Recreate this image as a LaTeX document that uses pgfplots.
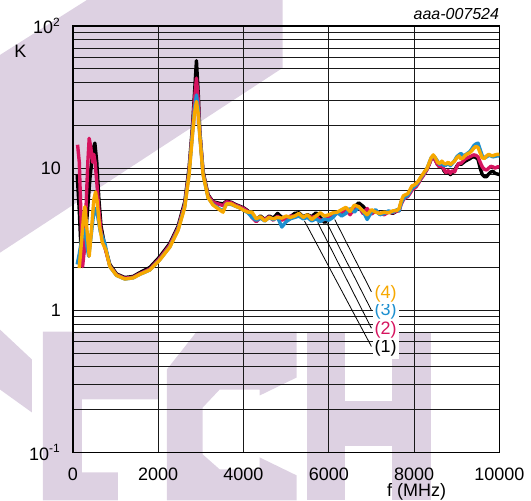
\documentclass[border=0pt]{standalone}
\usepackage{fontspec}
\setmainfont{Liberation Sans}
\usepackage{pgfplots}
\pgfplotsset{compat=1.18}
\definecolor{wm}{RGB}{221,209,226}
\definecolor{c1}{RGB}{0,0,0}
\definecolor{c2}{RGB}{214,20,95}
\definecolor{c3}{RGB}{30,144,208}
\definecolor{c4}{RGB}{247,168,0}
\begin{document}
\begin{tikzpicture}
\begin{scope}[x=0.5pt,y=-0.5pt]
\useasboundingbox (0,0) rectangle (531,501);
% watermark
\fill[wm] (0,55) -- (87,0) -- (283,0) -- (283,68) -- (0,253) -- cycle;
\fill[wm] (0,330) -- (32,360) -- (32,413) -- (0,390) -- cycle;
\fill[wm] (43,332) -- (158,332) -- (158,400) -- (82,400) -- (82,473) -- (118,473) -- (118,501) -- (43,501) -- cycle;
\fill[wm] (167,370) -- (197,332) -- (297,332) -- (297,378) -- (260,396) -- (260,390) -- (220,390) -- (203,408) -- (203,455) -- (220,470) -- (260,470) -- (260,458) -- (297,476) -- (297,501) -- (167,501) -- cycle;
\fill[wm] (307,332) rectangle (345,501);
\fill[wm] (393,332) rectangle (432,501);
\fill[wm] (345,402) rectangle (393,447);
\end{scope}
\node[anchor=east, inner sep=0, font=\itshape\fontsize{8}{9}\selectfont] at (250pt,-7.25pt) {aaa-007524};
\node[inner sep=0, font=\fontsize{9}{10}\selectfont] at (10.25pt,-25.5pt) {K};
\begin{axis}[
  at={(36.5pt,-226.5pt)}, anchor=south west,
  width=213.5pt, height=213.5pt, scale only axis,
  xmin=0, xmax=10000, ymode=log, ymin=0.1, ymax=100,
  scaled x ticks=false,
  xtick={0,2000,4000,6000,8000,10000},
  xticklabels={0,2000,4000,6000,8000,10000},
  ytick={0.1,1,10,100},
  yticklabels={10\textsuperscript{-1},1,10,10\textsuperscript{2}},
  minor ytick={0.2,0.3,0.4,0.5,0.6,0.7,0.8,0.9,2,3,4,5,6,7,8,9,20,30,40,50,60,70,80,90},
  xmajorgrids, ymajorgrids, yminorgrids,
  grid style={black!90, line width=0.5pt},
  minor grid style={black!90, line width=0.5pt},
  major tick length=0pt, minor tick length=0pt,
  axis line style={black, line width=0.6pt},
  tick label style={font=\fontsize{9}{10}\selectfont},
  xticklabel shift=4pt, yticklabel shift=2.5pt,
  xlabel={f (MHz)},
  xlabel style={at={(axis description cs:0.806,0)}, anchor=north, inner sep=0pt, yshift=-15.5pt, font=\fontsize{9}{10}\selectfont},
  clip=true,
]
% (1) black
\addplot[c1, line width=1.7pt, line join=round] coordinates {
(100,9.0) (150,5.0) (204,2.15) (260,2.6) (330,4.5) (400,8.5) (470,13.5) (515,15.0) (560,11) (610,6.0) (660,3.9) (750,2.8)
(866,2.1) (1023,1.8) (1218,1.7) (1412,1.73) (1569,1.84) (1803,2.0) (2037,2.38) (2272,2.95) (2466,3.9) (2623,5.8) (2724,10.0) (2803,19.5) (2850,33) (2897,57) (2940,33) (2974,18.5) (3052,9.5) (3169,6.5) (3286,5.8) (3443,5.65) (3520,5.6) (3599,5.85) (3716,5.75) (3811,5.55) (3911,5.4) (4006,5.25) (4106,5.0)
(4200,4.6) (4300,4.35) (4400,4.6) (4500,4.35) (4600,4.6) (4700,4.45) (4800,4.8) (4900,4.5) (5000,4.45) (5100,4.55) (5200,4.8) (5300,4.85) (5400,4.55) (5500,4.7) (5600,4.55) (5700,4.85) (5800,4.5) (5900,4.15) (6000,4.4) (6100,4.75) (6200,4.9) (6300,4.7) (6400,5.2) (6500,5.0) (6600,5.3) (6700,5.7) (6800,5.4) (6900,5.0) (7000,4.8) (7100,5.0) (7200,4.75) (7300,4.8) (7400,4.95) (7500,4.8) (7600,5.0)
(7650,5.1) (7700,5.8) (7750,6.2) (7800,6.3) (7850,6.4) (7900,6.8) (7950,7.3) (8000,7.4) (8050,7.6) (8100,7.9) (8150,8.4) (8200,8.8) (8250,9.3) (8300,9.8) (8350,10.6) (8400,11.6) (8450,12.0) (8500,11.4)
(8550,10.6) (8600,10.2) (8650,10.4) (8700,9.6) (8750,9.2) (8800,9.5) (8850,9.0) (8900,9.3) (8950,9.6) (9000,10.3) (9050,10.8) (9100,10.6) (9150,10.9) (9200,11.2) (9250,11.4) (9300,11.6) (9350,11.9) (9400,12.0) (9450,11.9) (9500,11.5) (9550,10.0) (9600,9.0) (9650,8.7) (9700,8.7) (9750,9.1) (9800,9.4) (9850,9.5) (9900,9.2) (9950,9.1) (10000,9.0)
};
% (2) magenta
\addplot[c2, line width=1.7pt, line join=round] coordinates {
(110,14.6) (150,11) (190,4.5) (227,2.03) (270,2.7) (310,5.5) (350,11) (382,16.2) (420,14) (460,11) (490,12.5) (520,11) (560,8) (610,5) (660,3.6) (710,3.1) (760,2.7)
(866,2.05) (1023,1.78) (1218,1.68) (1412,1.71) (1569,1.81) (1803,1.95) (2037,2.32) (2272,2.88) (2466,3.8) (2623,5.6) (2724,9.6) (2803,18.5) (2850,30) (2897,43) (2940,30) (2974,18) (3052,9.3) (3169,6.4) (3286,5.75) (3443,5.55) (3520,5.45) (3599,5.8) (3716,5.7) (3811,5.5) (3911,5.35) (4006,5.2) (4106,4.95)
(4200,4.5) (4300,4.2) (4400,4.5) (4500,4.35) (4600,4.55) (4700,4.3) (4800,4.6) (4900,4.3) (5000,4.45) (5100,4.6) (5200,4.6) (5300,4.7) (5400,4.45) (5500,4.65) (5600,4.5) (5700,4.6) (5800,4.3) (5900,4.35) (6000,4.55) (6100,4.7) (6200,4.8) (6300,4.9) (6400,5.1) (6500,4.7) (6600,5.2) (6700,5.4) (6800,4.8) (6900,5.2) (7000,4.75) (7100,5.0) (7200,4.8) (7300,4.7) (7400,4.9) (7500,4.85) (7600,5.0)
(7650,5.0) (7700,5.6) (7750,6.0) (7800,6.2) (7850,6.3) (7900,6.6) (7950,7.0) (8000,7.2) (8050,7.4) (8100,7.8) (8150,8.3) (8200,8.7) (8250,9.2) (8300,9.7) (8350,10.5) (8400,11.5) (8450,12.0) (8500,11.3)
(8550,10.6) (8600,10.2) (8650,10.5) (8700,9.8) (8750,9.3) (8800,9.6) (8850,9.2) (8900,9.6) (8950,9.4) (9000,10.2) (9050,10.8) (9100,10.8) (9150,11.2) (9200,11.6) (9250,11.8) (9300,12.0) (9350,12.2) (9400,12.4) (9450,12.3) (9500,12.0) (9550,11.0) (9600,10.2) (9650,9.8) (9700,9.7) (9750,10.0) (9800,10.3) (9850,10.2) (9900,10.0) (9950,10.2) (10000,10.2)
};
% (3) blue
\addplot[c3, line width=1.7pt, line join=round] coordinates {
(100,2.1) (150,2.5) (210,3.2) (281,3.7) (330,2.8) (370,2.4) (420,3.2) (480,4.6) (531,5.2) (580,4.6) (640,3.6) (750,2.95)
(866,2.03) (1023,1.76) (1218,1.66) (1412,1.69) (1569,1.79) (1803,1.92) (2037,2.27) (2272,2.8) (2466,3.7) (2623,5.4) (2724,9.2) (2803,17.5) (2850,26) (2897,32.7) (2940,26) (2974,17.5) (3052,9.1) (3169,6.2) (3286,5.55) (3443,5.15) (3520,5.0) (3599,5.6) (3716,5.55) (3811,5.4) (3911,5.25) (4006,5.05) (4106,4.85)
(4200,4.5) (4300,4.3) (4400,4.45) (4500,4.25) (4600,4.5) (4700,4.35) (4800,4.5) (4900,3.85) (5000,4.2) (5100,4.4) (5200,4.5) (5300,4.6) (5400,4.4) (5500,4.5) (5600,4.25) (5700,4.4) (5800,4.2) (5900,4.4) (6000,4.3) (6100,4.5) (6200,4.9) (6300,4.6) (6400,4.8) (6500,5.2) (6600,4.9) (6700,5.3) (6800,5.0) (6900,4.35) (7000,4.9) (7100,5.1) (7200,4.7) (7300,4.8) (7400,5.0) (7500,4.9) (7600,5.1)
(7650,5.0) (7700,5.7) (7750,6.1) (7800,6.3) (7850,6.4) (7900,6.8) (7950,7.2) (8000,7.4) (8050,7.6) (8100,8.0) (8150,8.5) (8200,8.9) (8250,9.4) (8300,9.9) (8350,10.8) (8400,11.8) (8450,12.2) (8500,11.8)
(8550,11.2) (8600,10.6) (8650,10.9) (8700,10.4) (8750,10.5) (8800,10.8) (8850,10.4) (8900,10.8) (8950,11.3) (9000,12.0) (9050,12.4) (9100,12.7) (9150,12.2) (9200,12.4) (9250,12.7) (9300,13.0) (9350,13.6) (9400,14.4) (9450,14.8) (9500,15.0) (9550,13.5) (9600,12.2) (9650,11.8) (9700,12.0) (9750,12.3) (9800,12.2) (9850,12.0) (9900,12.1) (9950,12.2) (10000,12.2)
};
% (4) orange
\addplot[c4, line width=1.7pt, line join=round] coordinates {
(148,1.98) (200,3.0) (250,4.6) (281,5.35) (320,4.0) (382,2.4) (430,3.5) (490,6.0) (531,6.8) (570,5.8) (620,4.0) (690,3.0) (773,2.66)
(866,2.03) (1023,1.76) (1218,1.66) (1412,1.69) (1569,1.79) (1803,1.92) (2037,2.26) (2272,2.78) (2466,3.65) (2623,5.3) (2724,9.0) (2803,17) (2850,24) (2897,29.4) (2940,24) (2974,17) (3052,9.0) (3169,6.2) (3286,5.5) (3443,5.08) (3520,4.9) (3599,5.6) (3716,5.6) (3811,5.4) (3911,5.25) (4006,5.05) (4106,4.9)
(4200,4.9) (4300,4.4) (4400,4.55) (4500,4.25) (4600,4.5) (4700,4.4) (4800,4.5) (4900,4.45) (5000,4.6) (5100,4.5) (5200,4.6) (5300,4.8) (5400,4.5) (5500,4.7) (5600,4.35) (5700,4.6) (5800,4.85) (5900,4.6) (6000,4.7) (6100,4.85) (6200,4.9) (6300,5.1) (6400,5.3) (6500,4.95) (6600,5.5) (6700,5.35) (6800,5.0) (6900,4.7) (7000,5.1) (7100,4.9) (7200,4.8) (7300,4.9) (7400,4.85) (7500,5.0) (7600,5.05)
(7650,5.2) (7700,5.9) (7750,6.4) (7800,6.5) (7850,6.6) (7900,7.0) (7950,7.5) (8000,7.6) (8050,7.8) (8100,8.1) (8150,8.6) (8200,9.0) (8250,9.5) (8300,9.9) (8350,10.8) (8400,11.8) (8450,12.4) (8500,11.8)
(8550,11.0) (8600,10.8) (8650,11.2) (8700,10.8) (8750,10.7) (8800,11.0) (8850,10.6) (8900,10.9) (8950,11.2) (9000,11.8) (9050,12.2) (9100,11.6) (9150,11.8) (9200,12.3) (9250,12.6) (9300,12.8) (9350,13.2) (9400,13.8) (9450,14.2) (9500,14.0) (9550,12.8) (9600,11.8) (9650,11.7) (9700,12.2) (9750,12.5) (9800,12.3) (9850,12.2) (9900,12.4) (9950,12.5) (10000,12.5)
};
% leader lines and labels
\draw[black, line width=0.4pt] (axis cs:5430,4.25) -- (axis cs:7000,0.556);
\draw[black, line width=0.4pt] (axis cs:5740,4.15) -- (axis cs:7000,0.748);
\draw[black, line width=0.4pt] (axis cs:5940,4.2) -- (axis cs:7000,1.0);
\draw[black, line width=0.4pt] (axis cs:6140,4.35) -- (axis cs:7000,1.35);
\node[anchor=west, fill=white, inner sep=1pt, text=c1, font=\fontsize{9}{10}\selectfont] at (axis cs:7020,0.54) {(1)};
\node[anchor=west, fill=white, inner sep=1pt, text=c2, font=\fontsize{9}{10}\selectfont] at (axis cs:7020,0.73) {(2)};
\node[anchor=west, fill=white, inner sep=1pt, text=c3, font=\fontsize{9}{10}\selectfont] at (axis cs:7020,0.99) {(3)};
\node[anchor=west, fill=white, inner sep=1pt, text=c4, font=\fontsize{9}{10}\selectfont] at (axis cs:7020,1.31) {(4)};
\end{axis}
\end{tikzpicture}
\end{document}
